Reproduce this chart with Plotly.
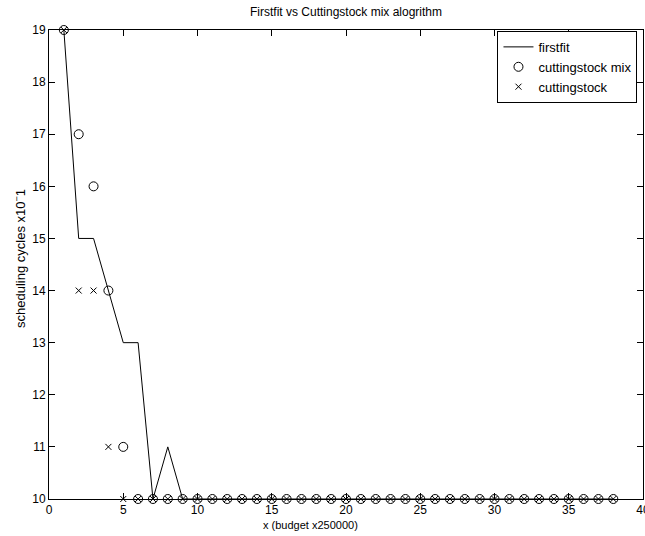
import plotly.graph_objects as go

# budget steps (x 250000)
x_budget = list(range(1, 39))

# scheduling cycles (x10^-1) per algorithm
firstfit = [19, 15, 15, 14, 13, 13, 10, 11, 10] + [10] * 29
cuttingstock_mix = [19, 17, 16, 14, 11] + [10] * 33
cuttingstock = [19, 14, 14, 11, 10] + [10] * 33

x_ticks = [0, 5, 10, 15, 20, 25, 30, 35, 40]
y_ticks = [10, 11, 12, 13, 14, 15, 16, 17, 18, 19]

FONT = "Liberation Sans, Arial, Helvetica, sans-serif"
W, H = 645, 536
LEFT, RIGHT, TOP, BOTTOM = 49, 643, 30, 499

fig = go.Figure()
fig.add_trace(go.Scatter(
    x=x_budget, y=firstfit, mode="lines", name="firstfit",
    line=dict(color="black", width=1), cliponaxis=False,
))
fig.add_trace(go.Scatter(
    x=x_budget, y=cuttingstock_mix, mode="markers", name="cuttingstock mix",
    marker=dict(symbol="circle-open", size=9, color="black", line=dict(width=1, color="black")),
    cliponaxis=False,
))
fig.add_trace(go.Scatter(
    x=x_budget, y=cuttingstock, mode="markers", name="cuttingstock",
    marker=dict(symbol="x-thin-open", size=6, color="black", line=dict(width=1, color="black")),
    cliponaxis=False,
))

axis_common = dict(
    showgrid=False, zeroline=False, showline=True, linecolor="black", linewidth=1,
    mirror="ticks", ticks="inside", ticklen=6, tickcolor="black",
    tickfont=dict(family=FONT, size=12, color="black"),
    ticklabeloverflow="allow", automargin=False,
)

fig.update_layout(
    width=W, height=H,
    margin=dict(l=LEFT, r=W - RIGHT, t=TOP, b=H - BOTTOM, autoexpand=False),
    paper_bgcolor="white", plot_bgcolor="white",
    font=dict(family=FONT, size=11, color="black"),
    title=dict(text="Firstfit vs Cuttingstock mix alogrithm", x=(LEFT + RIGHT) / 2 / W, xanchor="center",
               y=1 - 12 / H, yanchor="middle", font=dict(family=FONT, size=12)),
    xaxis=dict(range=[0, 40], tickvals=x_ticks, **axis_common),
    yaxis=dict(range=[10, 19], tickvals=y_ticks, **axis_common),
    legend=dict(x=0.755, y=0.998, xanchor="left", yanchor="top",
                bordercolor="black", borderwidth=1, bgcolor="white",
                font=dict(family=FONT, size=13), tracegroupgap=0,
                itemwidth=30),
    showlegend=True,
)

# axis titles
fig.add_annotation(text="x (budget x250000)", xref="paper", yref="paper",
                   x=0.44, y=-(525 - BOTTOM) / (BOTTOM - TOP), xanchor="center", yanchor="middle",
                   showarrow=False, font=dict(family=FONT, size=11))
fig.add_annotation(text="scheduling cycles x10<sup>\u2212</sup>1", xref="paper", yref="paper",
                   x=-(LEFT - 20) / (RIGHT - LEFT), y=(BOTTOM - 259) / (BOTTOM - TOP),
                   xanchor="center", yanchor="middle",
                   textangle=-90, showarrow=False, font=dict(family=FONT, size=13))

fig.write_html("out.html")
